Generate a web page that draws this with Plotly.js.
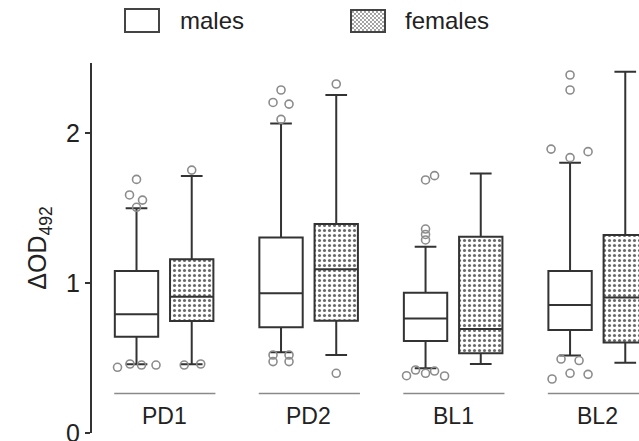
<!DOCTYPE html>
<html><head><meta charset="utf-8">
<script src="https://cdn.plot.ly/plotly-3.0.1.min.js"></script>
<style>html,body{margin:0;padding:0;background:#fff}#chart{width:639px;height:441px}</style>
</head><body><div id="chart"></div>
<script>
// ---- data ----
const groups = ['PD1', 'PD2', 'BL1', 'BL2'];

const maleQ1  = [0.642, 0.705, 0.613, 0.687];
const maleMed = [0.791, 0.931, 0.764, 0.853];
const maleQ3  = [1.080, 1.304, 0.935, 1.080];
const maleLo  = [0.458, 0.538, 0.431, 0.516];
const maleHi  = [1.498, 2.064, 1.242, 1.802];

const femaleQ1  = [0.747, 0.749, 0.531, 0.604];
const femaleMed = [0.909, 1.091, 0.693, 0.904];
const femaleQ3  = [1.158, 1.393, 1.309, 1.320];
const femaleLo  = [0.458, 0.520, 0.460, 0.469];
const femaleHi  = [1.713, 2.253, 1.731, 2.409];

// outliers: group index and value
const maleOutGroup = [0,0,0,0,0,0,0,0, 1,1,1,1,1,1,1,1, 2,2,2,2,2,2,2,2,2,2, 3,3,3,3,3,3,3,3,3,3];
const maleOutVal   = [1.691,1.587,1.553,1.505,0.438,0.460,0.453,0.453,
                      2.287,2.204,2.193,2.091,0.520,0.520,0.476,0.476,
                      1.687,1.716,1.360,1.324,1.287,0.382,0.420,0.398,0.413,0.380,
                      2.387,2.287,1.893,1.876,1.836,0.493,0.483,0.360,0.398,0.391];
const femaleOutGroup = [0,0,0, 1,1];
const femaleOutVal   = [1.753,0.453,0.460, 2.327,0.398];

// ---- layout helpers (positions / styling, not data) ----
const maleJitterPx   = [0,-7,6,0,-19,-6.5,5,19.5,  0,-8,8,0,-8,8,-8,8,  0,9,0,0,0,-19,-10,0,9,19,  0,0,-19,18,0,-9,9,-18,0,18];
const femaleJitterPx = [0,-7.5,9, 0,0];
const PXU = 144.5;       // px per group unit
const OFF = 0.191;       // box offset from group centre
const BW = 0.30;         // box width
const FONT = 'Liberation Sans, Arial, sans-serif';
const LINE = '#333';

const maleX = groups.map((_, i) => i - OFF);
const femaleX = groups.map((_, i) => i + OFF);

const traces = [
  { type: 'bar', x: femaleX, base: femaleQ1, y: femaleQ3.map((v, i) => v - femaleQ1[i]),
    width: BW, marker: { color: 'white', line: { width: 0 },
      pattern: { shape: '.', fgcolor: '#6a6a6a', bgcolor: 'white', size: 5, solidity: 0.3 } },
    showlegend: false, hoverinfo: 'skip' },
  { type: 'box', name: 'males', x: maleX, q1: maleQ1, median: maleMed, q3: maleQ3,
    lowerfence: maleLo, upperfence: maleHi, width: BW, whiskerwidth: 0.5,
    fillcolor: 'white', line: { color: LINE, width: 2 }, boxpoints: false, showlegend: false },
  { type: 'box', name: 'females', x: femaleX, q1: femaleQ1, median: femaleMed, q3: femaleQ3,
    lowerfence: femaleLo, upperfence: femaleHi, width: BW, whiskerwidth: 0.5,
    fillcolor: 'rgba(0,0,0,0)', line: { color: LINE, width: 2 }, boxpoints: false, showlegend: false },
  { type: 'scatter', mode: 'markers',
    x: maleOutGroup.map((g, k) => g - OFF + maleJitterPx[k] / PXU), y: maleOutVal,
    marker: { symbol: 'circle-open', size: 8, color: '#8c8c8c', line: { width: 1.6, color: '#8c8c8c' } },
    showlegend: false, hoverinfo: 'skip' },
  { type: 'scatter', mode: 'markers',
    x: femaleOutGroup.map((g, k) => g + OFF + femaleJitterPx[k] / PXU), y: femaleOutVal,
    marker: { symbol: 'circle-open', size: 8, color: '#8c8c8c', line: { width: 1.6, color: '#8c8c8c' } },
    showlegend: false, hoverinfo: 'skip' }
];

const shapes = groups.map((_, i) => ({
  type: 'line', xref: 'x', yref: 'y', x0: i - 0.345, x1: i + 0.355, y0: 0.263, y1: 0.263,
  line: { color: '#8a8a8a', width: 1.5 }
}));
// legend icons (paper coords)
const px2x = p => (p - 92) / 547;
const py2y = p => (433 - p) / 370;
shapes.push({ type: 'rect', xref: 'paper', yref: 'paper', x0: px2x(125), x1: px2x(159), y0: py2y(32), y1: py2y(9),
  line: { color: '#444', width: 2 }, fillcolor: 'white' });

const patSvg = "<svg xmlns='http://www.w3.org/2000/svg' width='36' height='24'><defs><pattern id='p' width='4' height='4' patternUnits='userSpaceOnUse'><rect width='4' height='4' fill='white'/><circle cx='1' cy='1' r='0.9' fill='#777'/><circle cx='3' cy='3' r='0.9' fill='#777'/></pattern></defs><rect x='1' y='1' width='34' height='22' fill='url(#p)' stroke='#444' stroke-width='2'/></svg>";

const annotations = groups.map((g, i) => ({
  text: g, xref: 'x', yref: 'y', x: i, y: 0.112, showarrow: false,
  font: { family: FONT, size: 23, color: '#222' }, xanchor: 'center', yanchor: 'middle'
}));
annotations.push({ text: 'males', xref: 'paper', yref: 'paper', x: px2x(178), y: py2y(20.5),
  xanchor: 'left', yanchor: 'middle', showarrow: false, font: { family: FONT, size: 24, color: '#222' } });
annotations.push({ text: 'females', xref: 'paper', yref: 'paper', x: px2x(403), y: py2y(20.5),
  xanchor: 'left', yanchor: 'middle', showarrow: false, font: { family: FONT, size: 24, color: '#222' } });

const layout = {
  width: 639, height: 441,
  margin: { l: 92, r: 0, t: 63, b: 8 },
  paper_bgcolor: 'white', plot_bgcolor: 'white',
  barmode: 'overlay', showlegend: false, hovermode: false,
  xaxis: { range: [-0.499, 3.286], showgrid: false, zeroline: false, showline: false,
           showticklabels: false, ticks: '' },
  yaxis: { range: [0, 2.467], tickvals: [0, 1, 2], ticktext: ['0', '1', '2'],
           ticks: 'outside', ticklen: 5, tickwidth: 2, tickcolor: LINE,
           showline: true, linecolor: LINE, linewidth: 2, showgrid: false, zeroline: false,
           ticklabeloverflow: 'allow',
           tickfont: { family: FONT, size: 25, color: '#222' },
           title: { text: 'ΔOD<sub>492</sub>', font: { family: FONT, size: 25, color: '#222' }, standoff: 12 } },
  shapes: shapes,
  annotations: annotations,
  images: [{ source: 'data:image/svg+xml;charset=utf-8,' + encodeURIComponent(patSvg),
             xref: 'paper', yref: 'paper', x: px2x(350), y: py2y(9), sizex: px2x(386) - px2x(350),
             sizey: py2y(9) - py2y(33), xanchor: 'left', yanchor: 'top', sizing: 'stretch', layer: 'above' }]
};

Plotly.newPlot('chart', traces, layout, { displayModeBar: false, staticPlot: true });
</script>
</body></html>
